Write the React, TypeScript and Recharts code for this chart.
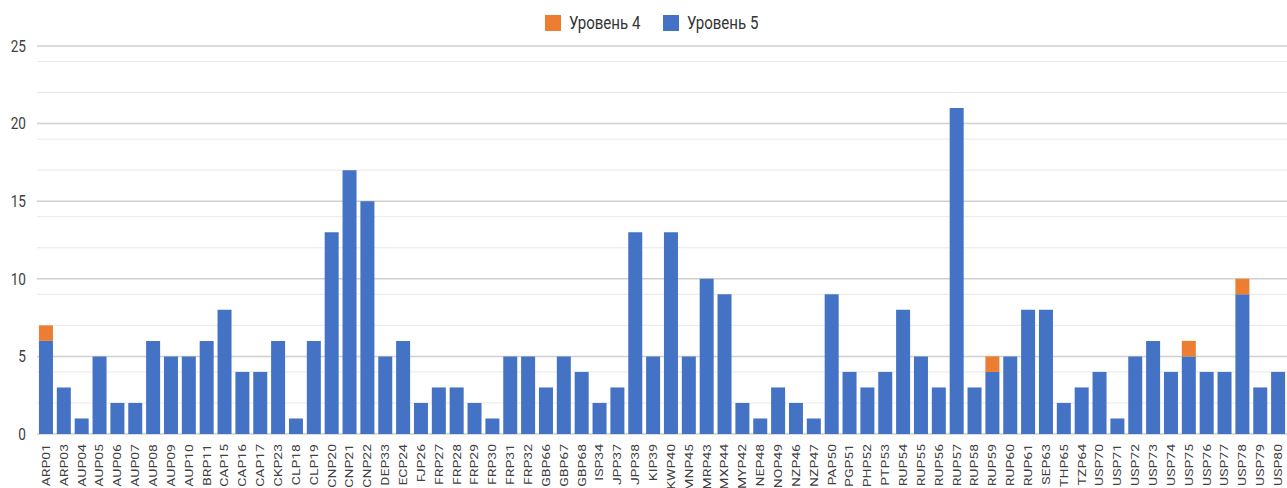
import { BarChart, Bar, XAxis, YAxis, CartesianGrid, Legend } from "recharts";

const categories = [
  "ARP01", "ARP03", "AUP04", "AUP05", "AUP06", "AUP07", "AUP08", "AUP09", "AUP10", "BRP11",
  "CAP15", "CAP16", "CAP17", "CKP23", "CLP18", "CLP19", "CNP20", "CNP21", "CNP22", "DEP33",
  "ECP24", "FJP26", "FRP27", "FRP28", "FRP29", "FRP30", "FRP31", "FRP32", "GBP66", "GBP67",
  "GBP68", "ISP34", "JPP37", "JPP38", "KIP39", "KWP40", "MNP45", "MRP43", "MXP44", "MYP42",
  "NEP48", "NOP49", "NZP46", "NZP47", "PAP50", "PGP51", "PHP52", "PTP53", "RUP54", "RUP55",
  "RUP56", "RUP57", "RUP58", "RUP59", "RUP60", "RUP61", "SEP63", "THP65", "TZP64", "USP70",
  "USP71", "USP72", "USP73", "USP74", "USP75", "USP76", "USP77", "USP78", "USP79", "USP80",
];

const level5 = [
  6, 3, 1, 5, 2, 2, 6, 5, 5, 6,
  8, 4, 4, 6, 1, 6, 13, 17, 15, 5,
  6, 2, 3, 3, 2, 1, 5, 5, 3, 5,
  4, 2, 3, 13, 5, 13, 5, 10, 9, 2,
  1, 3, 2, 1, 9, 4, 3, 4, 8, 5,
  3, 21, 3, 4, 5, 8, 8, 2, 3, 4,
  1, 5, 6, 4, 5, 4, 4, 9, 3, 4,
];

const level4 = [
  1, 0, 0, 0, 0, 0, 0, 0, 0, 0,
  0, 0, 0, 0, 0, 0, 0, 0, 0, 0,
  0, 0, 0, 0, 0, 0, 0, 0, 0, 0,
  0, 0, 0, 0, 0, 0, 0, 0, 0, 0,
  0, 0, 0, 0, 0, 0, 0, 0, 0, 0,
  0, 0, 0, 1, 0, 0, 0, 0, 0, 0,
  0, 0, 0, 0, 1, 0, 0, 1, 0, 0,
];

const yTicks = [0, 5, 10, 15, 20, 25];
const minorTicks = [1, 2, 3, 4, 6, 7, 8, 9, 11, 12, 13, 14, 16, 17, 18, 19, 21, 22, 23, 24];

const BLUE = "#4472C4";
const ORANGE = "#ED7D31";
const FONT = "Roboto, 'Noto Sans', sans-serif";

const legendItems = [
  { name: "Уровень 4", color: ORANGE },
  { name: "Уровень 5", color: BLUE },
];

const data = categories.map((name, i) => ({ name, l5: level5[i], l4: level4[i] || null }));

function XTick(props: any) {
  const { x, y, payload } = props;
  return (
    <text
      transform={`translate(${x},${y + 2}) rotate(-90) scale(1,0.78)`}
      textAnchor="end"
      dy="0.36em"
      fontSize={14}
      fontFamily={FONT}
      fill="#404040"
    >
      {payload.value}
    </text>
  );
}

function YTick(props: any) {
  const { x, y, payload } = props;
  return (
    <text
      transform={`translate(${x},${y}) scale(0.85,1)`}
      textAnchor="end"
      dy="0.36em"
      fontSize={16}
      fontFamily={FONT}
      fill="#404040"
    >
      {payload.value}
    </text>
  );
}

function LegendContent() {
  return (
    <div
      style={{
        display: "flex",
        justifyContent: "center",
        alignItems: "center",
        paddingLeft: 22,
        fontFamily: FONT,
        fontSize: 17.5,
        color: "#333",
      }}
    >
      {legendItems.map((it) => (
        <div key={it.name} style={{ display: "flex", alignItems: "center", margin: "0 8px" }}>
          <span style={{ width: 16, height: 16, background: it.color, display: "inline-block", marginRight: 8 }} />
          <span style={{ display: "inline-block", width: 78, whiteSpace: "nowrap" }}>
            <span style={{ display: "inline-block", transform: "scaleX(0.86)", transformOrigin: "left center" }}>
              {it.name}
            </span>
          </span>
        </div>
      ))}
    </div>
  );
}

export default function App() {
  return (
    <div style={{ position: "absolute", left: 0, top: 0, width: 1287, height: 488, background: "#fff" }}>
      <BarChart
        width={1287}
        height={488}
        data={data}
        margin={{ top: 46, right: 0, left: 0, bottom: 0 }}
        barCategoryGap="11%"
      >
        <CartesianGrid vertical={false} horizontalValues={minorTicks} stroke="#e8e8e8" strokeWidth={1} />
        <CartesianGrid vertical={false} horizontalValues={yTicks} stroke="#d0d0d0" strokeWidth={1.5} />
        <XAxis
          dataKey="name"
          interval={0}
          height={54}
          tickLine={false}
          axisLine={false}
          tick={<XTick />}
        />
        <YAxis
          domain={[0, 25]}
          ticks={yTicks}
          width={37}
          tickLine={false}
          axisLine={false}
          tickMargin={5}
          tick={<YTick />}
        />
        <Legend
          layout="horizontal"
          verticalAlign="middle"
          align="center"
          content={<LegendContent />}
          wrapperStyle={{ top: 13, left: 0, width: 1287 }}
        />
        <Bar dataKey="l5" name="Уровень 5" stackId="a" fill={BLUE} isAnimationActive={false} />
        <Bar dataKey="l4" name="Уровень 4" stackId="a" fill={ORANGE} isAnimationActive={false} />
      </BarChart>
    </div>
  );
}
